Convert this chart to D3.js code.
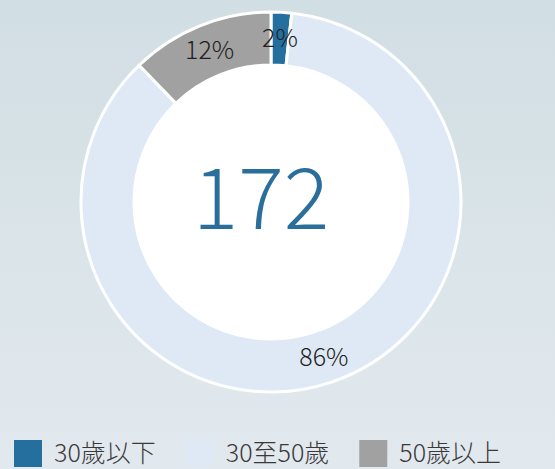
<!DOCTYPE html>
<html>
<head>
<meta charset="utf-8">
<title>Age donut</title>
<style>
body { margin: 0; overflow: hidden; }
svg { display: block; font-family: "Noto Sans CJK TC", "Noto Sans", sans-serif; }
</style>
</head>
<body>
<svg width="555" height="469"></svg>
<script src="https://cdn.jsdelivr.net/npm/d3@7"></script>
<script>

var categories = ["30歲以下", "30至50歲", "50歲以上"];
var counts = [3, 148, 21];
var colours = ["#246f9d", "#dfe9f5", "#a1a1a1"];
var total = 172;

var width = 555,
    height = 469,
    cx = 271,
    cy = 202,
    outerR = 190,
    innerR = 137;

var svg = d3.select("svg");

var defs = svg.append("defs");
var grad = defs.append("linearGradient")
    .attr("id", "bg")
    .attr("x1", 0).attr("y1", 0)
    .attr("x2", 0).attr("y2", 1);
grad.append("stop").attr("offset", "0%").attr("stop-color", "#d1dee3");
grad.append("stop").attr("offset", "100%").attr("stop-color", "#e2e9ee");

svg.append("rect")
    .attr("width", width)
    .attr("height", height)
    .attr("fill", "url(#bg)");

var color = d3.scaleOrdinal()
    .domain(categories)
    .range(colours);

var pie = d3.pie()
    .sort(null)
    .value(function(d) { return d.value; });

var data = categories.map(function(c, i) {
  return { name: c, value: counts[i] };
});

var arcs = pie(data);

var arc = d3.arc()
    .innerRadius(innerR)
    .outerRadius(outerR);

var labelArc = d3.arc()
    .innerRadius(164)
    .outerRadius(164);

var g = svg.append("g")
    .attr("transform", "translate(" + cx + "," + cy + ")");

g.append("circle")
    .attr("r", innerR)
    .attr("fill", "#fff");

g.selectAll("path")
    .data(arcs)
  .enter().append("path")
    .attr("d", arc)
    .attr("fill", function(d) { return color(d.data.name); })
    .attr("stroke", "#fff")
    .attr("stroke-width", 3)
    .attr("stroke-linejoin", "round");

g.selectAll("text.pct")
    .data(arcs)
  .enter().append("text")
    .attr("class", "pct")
    .attr("transform", function(d) { return "translate(" + labelArc.centroid(d) + ")"; })
    .attr("text-anchor", "middle")
    .attr("dy", "0.35em")
    .attr("fill", "#231f20")
    .style("font-size", "25px")
    .style("font-weight", 300)
    .text(function(d) { return Math.round(d.data.value / total * 100) + "%"; });

g.append("text")
    .attr("x", -10)
    .attr("text-anchor", "middle")
    .attr("dy", "0.32em")
    .attr("fill", "#2a6f9b")
    .style("font-size", "85px")
    .style("font-weight", 300)
    .text(total);

// legend
var legend = svg.append("g")
    .attr("transform", "translate(14, 440)");

var x = 0;
categories.forEach(function(c, i) {
  var item = legend.append("g")
      .attr("transform", "translate(" + x + ",0)");
  item.append("rect")
      .attr("width", 28)
      .attr("height", 27)
      .attr("fill", color(c));
  var t = item.append("text")
      .attr("x", 40)
      .attr("y", 22)
      .attr("fill", "#3a3838")
      .style("font-size", "25px")
      .style("font-weight", 300)
      .text(c);
  x += 40 + t.node().getComputedTextLength() + 30;
});

</script>
</body>
</html>
